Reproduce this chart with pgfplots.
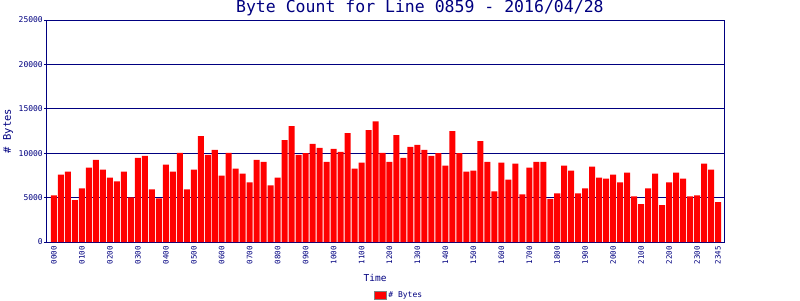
\documentclass[border=0pt]{standalone}
\usepackage{pgfplots}
\pgfplotsset{compat=1.18}
\usepackage{fontspec}
\setmainfont{DejaVu Sans Mono}
\definecolor{navy}{HTML}{000080}
\begin{document}
\begin{tikzpicture}
\path[use as bounding box] (-47pt,-58pt) rectangle (753pt,242pt);
\begin{axis}[
  at={(0,0)}, anchor=south west,
  scale only axis, width=678pt, height=222pt,
  xmin=-1, xmax=96, ymin=0, ymax=25000,
  axis line style={navy, line width=1pt},
  ybar, bar width=0.86,
  ytick={0,5000,10000,15000,20000,25000},
  ytick pos=left,
  yticklabel style={font=\fontsize{8}{9}\selectfont, text=navy, inner sep=1pt},
  scaled y ticks=false,
  /pgf/number format/assume math mode=true,
  /pgf/number format/set thousands separator={},
  ymajorgrids, major grid style={navy, line width=1pt},
  tick align=outside, major tick length=3pt,
  tick style={navy, line width=1pt},
  xtick={0,4,8,12,16,20,24,28,32,36,40,44,48,52,56,60,64,68,72,76,80,84,88,92,95},
  xticklabels={0000,0100,0200,0300,0400,0500,0600,0700,0800,0900,1000,1100,1200,1300,1400,1500,1600,1700,1800,1900,2000,2100,2200,2300,2345},
  xticklabel style={rotate=90, anchor=east, font=\fontsize{7.5}{8}\selectfont, text=navy, inner sep=1pt},
  x tick style={draw=none},
  xlabel={Time},
  xlabel style={at={(axis description cs:0.484,-0.162)}, anchor=center, font=\fontsize{9.5}{10}\selectfont, text=navy},
  ylabel={\# Bytes},
  ylabel style={at={(axis description cs:-0.0575,0.5)}, anchor=center, font=\fontsize{10.5}{11}\selectfont, text=navy},
  every axis title shift=0pt,
  title={Byte Count for Line 0859 - 2016/04/28},
  title style={at={(axis description cs:0.55,1.054)}, anchor=center, font=\fontsize{16.5}{17}\selectfont, text=navy},
  legend style={at={(axis description cs:0.519,-0.239)}, anchor=center, draw=none, fill=none, font=\fontsize{8}{9}\selectfont, text=navy, inner sep=0pt},
  legend image code/.code={\draw[fill=red, draw=gray, line width=0.8pt] (0pt,-4pt) rectangle (12pt,4pt);},
]
\addplot[fill=red, draw=none] coordinates {
(0,5260) (1,7593) (2,7926) (3,4704) (4,6037) (5,8371) (6,9260) (7,8149)
(8,7260) (9,6815) (10,7926) (11,5037) (12,9482) (13,9704) (14,5926) (15,4926)
(16,8704) (17,7926) (18,10037) (19,5926) (20,8149) (21,11926) (22,9815) (23,10371)
(24,7482) (25,10037) (26,8260) (27,7704) (28,6704) (29,9260) (30,9037) (31,6371)
(32,7260) (33,11482) (34,13037) (35,9815) (36,10000) (37,11037) (38,10593) (39,9037)
(40,10482) (41,10149) (42,12260) (43,8260) (44,8926) (45,12593) (46,13593) (47,10037)
(48,9037) (49,12037) (50,9482) (51,10704) (52,10926) (53,10371) (54,9704) (55,10000)
(56,8593) (57,12482) (58,10000) (59,7926) (60,8037) (61,11371) (62,9037) (63,5704)
(64,8926) (65,7037) (66,8815) (67,5371) (68,8371) (69,9037) (70,9037) (71,4852)
(72,5482) (73,8593) (74,8037) (75,5482) (76,6037) (77,8482) (78,7260) (79,7149)
(80,7593) (81,6704) (82,7815) (83,5149) (84,4260) (85,6037) (86,7704) (87,4148)
(88,6704) (89,7815) (90,7149) (91,5149) (92,5260) (93,8815) (94,8149) (95,4482)
};
\addlegendentry{\# Bytes}
\end{axis}
\end{tikzpicture}
\end{document}
